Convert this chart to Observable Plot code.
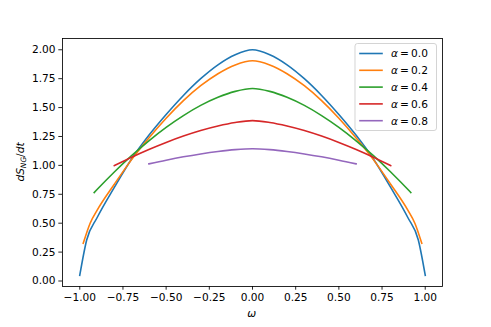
<!DOCTYPE html>
<html>
<head>
<meta charset="utf-8">
<script src="https://cdn.jsdelivr.net/npm/d3@7"></script>
<script src="https://cdn.jsdelivr.net/npm/@observablehq/plot@0.6"></script>
<style>
  html, body { margin: 0; padding: 0; background: white; }
  #chart { width: 491px; height: 327px; }
</style>
</head>
<body>
<div id="chart"></div>
<script>
// ---- data ----
const seriesLabels = ["0.0", "0.2", "0.4", "0.6", "0.8"];
const seriesColors = ["#1f77b4", "#ff7f0e", "#2ca02c", "#d62728", "#9467bd"];

const omegaA00 = [-1, -0.96, -0.9, -0.8, -0.7, -0.6, -0.5, -0.4, -0.3, -0.2, -0.1, 0,
                  0.1, 0.2, 0.3, 0.4, 0.5, 0.6, 0.7, 0.8, 0.9, 0.96, 1];
const valueA00 = [0.05, 0.355, 0.547, 0.81, 1.055, 1.26, 1.44, 1.605, 1.75, 1.87, 1.957, 2.0,
                  1.957, 1.87, 1.75, 1.605, 1.44, 1.26, 1.055, 0.81, 0.547, 0.355, 0.05];

const omegaA02 = [-0.98, -0.94, -0.9, -0.8, -0.7, -0.6, -0.5, -0.4, -0.3, -0.2, -0.1, 0,
                  0.1, 0.2, 0.3, 0.4, 0.5, 0.6, 0.7, 0.8, 0.9, 0.94, 0.98];
const valueA02 = [0.326, 0.50, 0.611, 0.837, 1.05, 1.237, 1.408, 1.56, 1.689, 1.793, 1.869, 1.905,
                  1.869, 1.793, 1.689, 1.56, 1.408, 1.237, 1.05, 0.837, 0.611, 0.50, 0.326];

const omegaA04 = [-0.9165, -0.9, -0.8, -0.7, -0.6, -0.5, -0.4, -0.3, -0.2, -0.1, 0,
                  0.1, 0.2, 0.3, 0.4, 0.5, 0.6, 0.7, 0.8, 0.9, 0.9165];
const valueA04 = [0.765, 0.791, 0.943, 1.084, 1.213, 1.329, 1.431, 1.519, 1.589, 1.640, 1.665,
                  1.640, 1.589, 1.519, 1.431, 1.329, 1.213, 1.084, 0.943, 0.791, 0.765];

const omegaA06 = [-0.8, -0.7, -0.6, -0.5, -0.4, -0.3, -0.2, -0.1, 0,
                  0.1, 0.2, 0.3, 0.4, 0.5, 0.6, 0.7, 0.8];
const valueA06 = [0.998, 1.071, 1.138, 1.199, 1.254, 1.302, 1.341, 1.371, 1.387,
                  1.371, 1.341, 1.302, 1.254, 1.199, 1.138, 1.071, 0.998];

const omegaA08 = [-0.6, -0.5, -0.4, -0.3, -0.2, -0.1, 0, 0.1, 0.2, 0.3, 0.4, 0.5, 0.6];
const valueA08 = [1.013, 1.045, 1.074, 1.099, 1.120, 1.136, 1.144, 1.136, 1.120, 1.099, 1.074, 1.045, 1.013];

const xTicks = [-1, -0.75, -0.5, -0.25, 0, 0.25, 0.5, 0.75, 1];
const yTicks = [0, 0.25, 0.5, 0.75, 1, 1.25, 1.5, 1.75, 2];

// ---- table built from the arrays ----
const seriesArrays = [
  [omegaA00, valueA00], [omegaA02, valueA02], [omegaA04, valueA04],
  [omegaA06, valueA06], [omegaA08, valueA08]
];
const rows = [];
seriesArrays.forEach(([om, va], i) => {
  om.forEach((w, j) => rows.push({series: seriesLabels[i], omega: w, value: va[j]}));
});

const fmt = d3.format(".2f");
const FONT = "DejaVu Sans";
const FS = 10.6;

const svg = Plot.plot({
  width: 491,
  height: 327,
  marginLeft: 62,
  marginRight: 49,
  marginTop: 38,
  marginBottom: 41,
  style: {fontFamily: FONT, fontSize: FS + "px", color: "black", background: "white", overflow: "visible"},
  x: {domain: [-1.1, 1.1]},
  y: {domain: [-0.0475, 2.0975]},
  color: {domain: seriesLabels, range: seriesColors},
  marks: [
    Plot.line(rows, {x: "omega", y: "value", z: "series", stroke: "series",
      curve: "monotone-x", strokeWidth: 1.6, strokeLinecap: "square", strokeLinejoin: "round"}),
    Plot.frame({stroke: "black", strokeWidth: 0.85}),
    Plot.axisX({ticks: xTicks, tickFormat: fmt, tickSize: 3.7, tickPadding: 3.2,
      label: null, fontSize: FS, stroke: "black", strokeWidth: 0.85}),
    Plot.axisY({ticks: yTicks, tickFormat: fmt, tickSize: 3.7, tickPadding: 3.2,
      label: null, fontSize: FS, stroke: "black", strokeWidth: 0.85})
  ]
});

document.getElementById("chart").appendChild(svg);

// ---- axis labels ----
const s = d3.select(svg);
s.append("text")
  .attr("x", 251.7).attr("y", 317)
  .attr("text-anchor", "middle")
  .attr("font-family", FONT).attr("font-size", FS)
  .attr("font-style", "italic")
  .attr("fill", "black")
  .text("ω");

const yl = s.append("text")
  .attr("transform", "translate(24,162) rotate(-90)")
  .attr("text-anchor", "middle")
  .attr("font-family", FONT).attr("font-size", FS)
  .attr("fill", "black");
yl.append("tspan").attr("font-style", "italic").text("dS");
yl.append("tspan").attr("font-style", "italic").attr("font-size", FS * 0.7).attr("dy", 2.2).text("NG");
yl.append("tspan").attr("dy", -2.2).text("/");
yl.append("tspan").attr("font-style", "italic").text("dt");

// ---- legend (upper right inside axes) ----
const lg = s.append("g");
lg.append("rect")
  .attr("x", 355).attr("y", 43.5).attr("width", 81.5).attr("height", 87)
  .attr("rx", 2.5).attr("ry", 2.5)
  .attr("fill", "white").attr("fill-opacity", 0.8)
  .attr("stroke", "#cccccc").attr("stroke-width", 0.85);
seriesLabels.forEach((lab, i) => {
  const yy = 53.5 + i * 16.8;
  lg.append("line")
    .attr("x1", 360).attr("x2", 382).attr("y1", yy).attr("y2", yy)
    .attr("stroke", seriesColors[i]).attr("stroke-width", 1.6).attr("stroke-linecap", "square");
  const t = lg.append("text")
    .attr("x", 391).attr("y", yy + 3.8)
    .attr("text-anchor", "start")
    .attr("font-family", FONT).attr("font-size", FS).attr("fill", "black");
  t.append("tspan").attr("font-style", "italic").text("α");
  t.append("tspan").text("\u2009=\u20090." + lab.slice(2));
});
</script>
</body>
</html>
